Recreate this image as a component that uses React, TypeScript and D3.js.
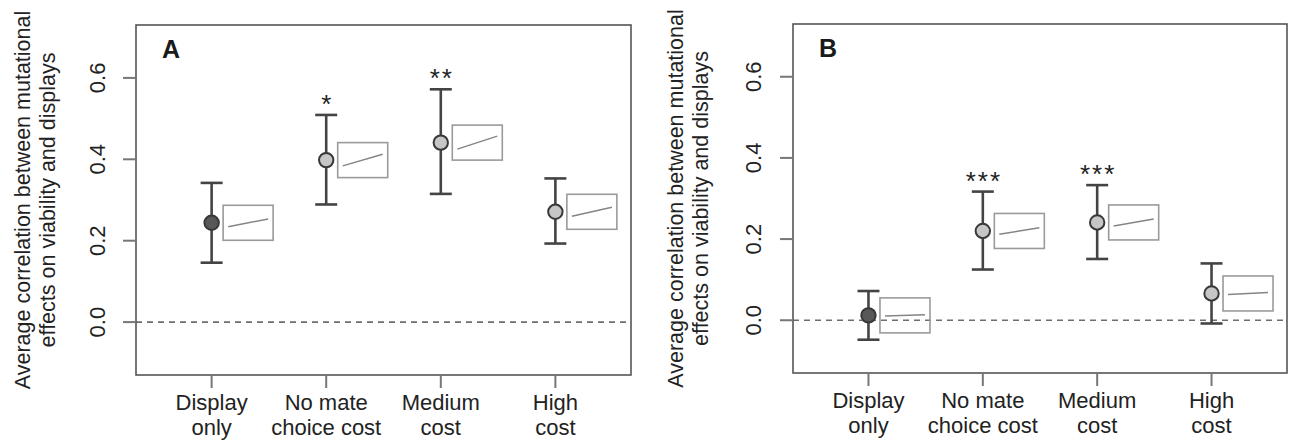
import React from "react";
import * as d3 from "d3";

// ---- data ----
const categories = ["Display only", "No mate choice cost", "Medium cost", "High cost"];
const categoryLines = [["Display", "only"], ["No mate", "choice cost"], ["Medium", "cost"], ["High", "cost"]];
const yTicks = [0.0, 0.2, 0.4, 0.6];
const yTickLabels = ["0.0", "0.2", "0.4", "0.6"];

const meanA = [0.244, 0.398, 0.441, 0.271];
const lowerA = [0.146, 0.289, 0.315, 0.193];
const upperA = [0.342, 0.509, 0.572, 0.353];
const starsA = ["", "*", "**", ""];
const insetSlopeA = [0.22, 0.33, 0.37, 0.26];

const meanB = [0.012, 0.22, 0.241, 0.066];
const lowerB = [-0.048, 0.125, 0.151, -0.008];
const upperB = [0.072, 0.317, 0.333, 0.14];
const starsB = ["", "***", "***", ""];
const insetSlopeB = [0.03, 0.19, 0.2, 0.06];

const darkIndex = [true, false, false, false];
const yTitle = ["Average correlation between mutational", "effects on viability and displays"];

const FONT = "'Liberation Sans', Arial, Helvetica, sans-serif";
const TEXT = "#222";

type PanelProps = {
  label: string;
  left: number;
  right: number;
  top: number;
  bottom: number;
  tickLabelX: number;
  titleX: number;
  mean: number[];
  lower: number[];
  upper: number[];
  stars: string[];
  slopes: number[];
};

function Panel(p: PanelProps) {
  const y = d3.scaleLinear().domain([-0.13, 0.73]).range([p.bottom, p.top]);
  const x = d3.scalePoint<string>().domain(categories).range([p.left, p.right]).padding(0.66);
  const insetX = d3.scaleLinear().domain([0, 1]).range([5, 45]);
  const boxW = 50;
  const boxH = 35;
  const insetY = d3.scaleLinear().domain([-0.5, 0.5]).range([boxH, 0]);
  const midY = (p.top + p.bottom) / 2;
  const zero = y(0);

  return (
    <g>
      {/* zero line */}
      <line x1={p.left} x2={p.right} y1={zero} y2={zero} stroke="#6e6e6e" strokeWidth={1.7} strokeDasharray="6,5" />
      {/* frame */}
      <rect x={p.left} y={p.top} width={p.right - p.left} height={p.bottom - p.top} fill="none" stroke="#555" strokeWidth={1.6} />
      {/* panel label */}
      <text x={p.left + 26} y={p.top + 33} fontFamily={FONT} fontWeight="bold" fontSize={25} fill="#1a1a1a">{p.label}</text>
      {/* y ticks */}
      {yTicks.map((t, i) => (
        <g key={"yt" + i}>
          <line x1={p.left - 13} x2={p.left} y1={y(t)} y2={y(t)} stroke="#777" strokeWidth={2} />
          <text
            transform={`translate(${p.tickLabelX},${y(t)}) rotate(-90)`}
            textAnchor="middle"
            dominantBaseline="central"
            fontFamily={FONT}
            fontSize={22}
            fill={TEXT}
          >
            {yTickLabels[i]}
          </text>
        </g>
      ))}
      {/* y title */}
      <text
        transform={`translate(${p.titleX},${midY}) rotate(-90)`}
        textAnchor="middle"
        fontFamily={FONT}
        fontSize={21.5}
        fill={TEXT}
      >
        <tspan x={0} dy={0} dominantBaseline="central">{yTitle[0]}</tspan>
        <tspan x={0} dy={24.5} dominantBaseline="central">{yTitle[1]}</tspan>
      </text>
      {/* x ticks and labels */}
      {categories.map((c, i) => (
        <g key={"xt" + i}>
          <line x1={x(c)} x2={x(c)} y1={p.bottom} y2={p.bottom + 13} stroke="#777" strokeWidth={2} />
          <text x={x(c)} y={p.bottom + 35} textAnchor="middle" fontFamily={FONT} fontSize={22} fill={TEXT}>
            {categoryLines[i][0]}
          </text>
          <text x={x(c)} y={p.bottom + 60} textAnchor="middle" fontFamily={FONT} fontSize={22} fill={TEXT}>
            {categoryLines[i][1]}
          </text>
        </g>
      ))}
      {/* points, error bars, insets */}
      {categories.map((c, i) => {
        const cx = x(c) as number;
        const cy = y(p.mean[i]);
        const bx = cx + 11.5;
        const by = cy - boxH / 2;
        const s = p.slopes[i];
        return (
          <g key={"pt" + i}>
            <rect x={bx} y={by} width={boxW} height={boxH} fill="none" stroke="#9a9a9a" strokeWidth={1.6} />
            <line
              x1={bx + insetX(0)}
              x2={bx + insetX(1)}
              y1={by + insetY(-s / 2)}
              y2={by + insetY(s / 2)}
              stroke="#858585"
              strokeWidth={1.5}
            />
            <line x1={cx} x2={cx} y1={y(p.lower[i])} y2={y(p.upper[i])} stroke="#444" strokeWidth={2.6} />
            <line x1={cx - 11} x2={cx + 11} y1={y(p.lower[i])} y2={y(p.lower[i])} stroke="#444" strokeWidth={2.6} />
            <line x1={cx - 11} x2={cx + 11} y1={y(p.upper[i])} y2={y(p.upper[i])} stroke="#444" strokeWidth={2.6} />
            <circle cx={cx} cy={cy} r={7.2} fill={darkIndex[i] ? "#585858" : "#c6c6c6"} stroke="#383838" strokeWidth={2} />
            {p.stars[i] && (
              <text
                x={cx + 1}
                y={y(p.upper[i]) - 2}
                textAnchor="middle"
                fontFamily={FONT}
                fontSize={26}
                letterSpacing={2}
                fill={TEXT}
              >
                {p.stars[i]}
              </text>
            )}
          </g>
        );
      })}
    </g>
  );
}

export default function App() {
  return (
    <svg width={1290} height={444} style={{ position: "absolute", left: 0, top: 0, background: "#fff" }}>
      <rect x={0} y={0} width={1290} height={444} fill="#fff" />
      <Panel
        label="A"
        left={136}
        right={631}
        top={25}
        bottom={375}
        tickLabelX={97.5}
        titleX={23}
        mean={meanA}
        lower={lowerA}
        upper={upperA}
        stars={starsA}
        slopes={insetSlopeA}
      />
      <Panel
        label="B"
        left={793}
        right={1287}
        top={24}
        bottom={373}
        tickLabelX={753}
        titleX={676}
        mean={meanB}
        lower={lowerB}
        upper={upperB}
        stars={starsB}
        slopes={insetSlopeB}
      />
    </svg>
  );
}
